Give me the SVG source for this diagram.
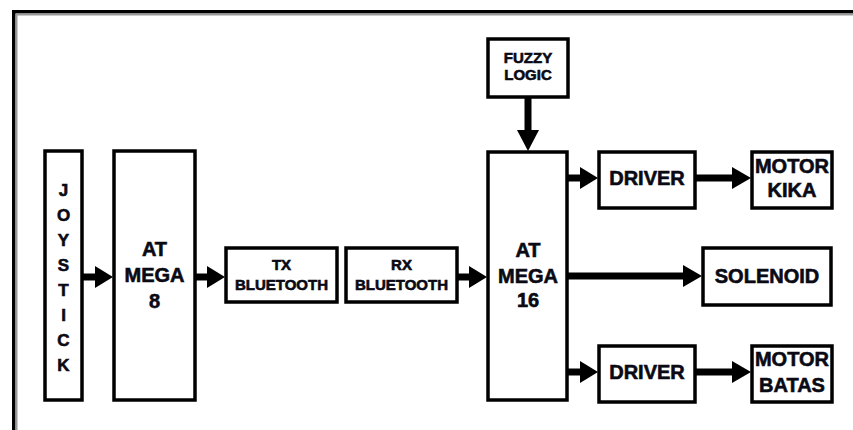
<svg xmlns="http://www.w3.org/2000/svg" width="853" height="430" viewBox="0 0 853 430">
<style>
.box{fill:#fff;stroke:#000;stroke-width:3.5}
.t{font-family:"Liberation Sans",Arial,sans-serif;font-weight:bold;fill:#0a0a14;stroke:#0a0a14;stroke-width:0.6;text-anchor:middle}
.l20{font-size:20px}
.l15{font-size:15px}
.l17{font-size:17px}
.ln{stroke:#000;stroke-width:7;fill:none}
.hd{fill:#000}
</style>
<rect x="0" y="0" width="853" height="430" fill="#fff"/>
<g id="frame">
<rect x="12" y="10" width="841" height="3.5" fill="#000"/>
<rect x="15.5" y="13.5" width="837.5" height="2" fill="#999"/>
<rect x="12" y="10" width="3.5" height="420" fill="#000"/>
<rect x="15.5" y="13.5" width="2" height="416.5" fill="#999"/>
</g>
<g id="connectors">
<line class="ln" x1="83" y1="277" x2="97" y2="277"/><polygon class="hd" points="95,266 113,277 95,288"/>
<line class="ln" x1="195" y1="277" x2="209" y2="277"/><polygon class="hd" points="207,266 225,277 207,288"/>
<line class="ln" x1="457" y1="277" x2="471" y2="277"/><polygon class="hd" points="469,266 487,277 469,288"/>
<line class="ln" x1="528" y1="97" x2="528" y2="132"/><polygon class="hd" points="517,130 528,151 539,130"/>
<line class="ln" x1="567" y1="178" x2="582" y2="178"/><polygon class="hd" points="580,167 598,178 580,189"/>
<line class="ln" x1="695" y1="178" x2="734" y2="178"/><polygon class="hd" points="732,167 751,178 732,189"/>
<line class="ln" x1="567" y1="276" x2="685" y2="276"/><polygon class="hd" points="683,265 702,276 683,287"/>
<line class="ln" x1="567" y1="372" x2="582" y2="372"/><polygon class="hd" points="580,361 598,372 580,383"/>
<line class="ln" x1="695" y1="372" x2="734" y2="372"/><polygon class="hd" points="732,361 751,372 732,383"/>
</g>
<g id="joystick">
<rect class="box" x="45" y="151" width="37" height="249"/>
<text class="t l17"><tspan x="63.5" y="196">J</tspan><tspan x="63.5" y="221">O</tspan><tspan x="63.5" y="246">Y</tspan><tspan x="63.5" y="271">S</tspan><tspan x="63.5" y="296">T</tspan><tspan x="63.5" y="321">I</tspan><tspan x="63.5" y="346">C</tspan><tspan x="63.5" y="371">K</tspan></text>
</g>
<g id="atmega8">
<rect class="box" x="114" y="151" width="81" height="249"/>
<text class="t l20"><tspan x="154.5" y="256">AT</tspan><tspan x="154.5" y="282">MEGA</tspan><tspan x="154.5" y="308">8</tspan></text>
</g>
<g id="tx">
<rect class="box" x="226" y="248" width="111" height="54"/>
<text class="t l15"><tspan x="281.5" y="270">TX</tspan><tspan x="281.5" y="290">BLUETOOTH</tspan></text>
</g>
<g id="rx">
<rect class="box" x="346" y="248" width="111" height="54"/>
<text class="t l15"><tspan x="401.5" y="270">RX</tspan><tspan x="401.5" y="290">BLUETOOTH</tspan></text>
</g>
<g id="fuzzy">
<rect class="box" x="488" y="39" width="80" height="58"/>
<text class="t l15"><tspan x="528" y="63">FUZZY</tspan><tspan x="528" y="80">LOGIC</tspan></text>
</g>
<g id="atmega16">
<rect class="box" x="488" y="152" width="79" height="248"/>
<text class="t l20"><tspan x="528" y="257">AT</tspan><tspan x="528" y="283">MEGA</tspan><tspan x="528" y="307">16</tspan></text>
</g>
<g id="driver1">
<rect class="box" x="599" y="152" width="96" height="56"/>
<text class="t l20" x="647" y="185">DRIVER</text>
</g>
<g id="motorkika">
<rect class="box" x="752" y="152" width="80" height="56"/>
<text class="t l20"><tspan x="792" y="173">MOTOR</tspan><tspan x="792" y="197">KIKA</tspan></text>
</g>
<g id="solenoid">
<rect class="box" x="703" y="248" width="128" height="57"/>
<text class="t l20" x="767" y="283">SOLENOID</text>
</g>
<g id="driver2">
<rect class="box" x="599" y="346" width="96" height="56"/>
<text class="t l20" x="647" y="379">DRIVER</text>
</g>
<g id="motorbatas">
<rect class="box" x="752" y="346" width="80" height="56"/>
<text class="t l20"><tspan x="792" y="366">MOTOR</tspan><tspan x="792" y="392">BATAS</tspan></text>
</g>
</svg>
